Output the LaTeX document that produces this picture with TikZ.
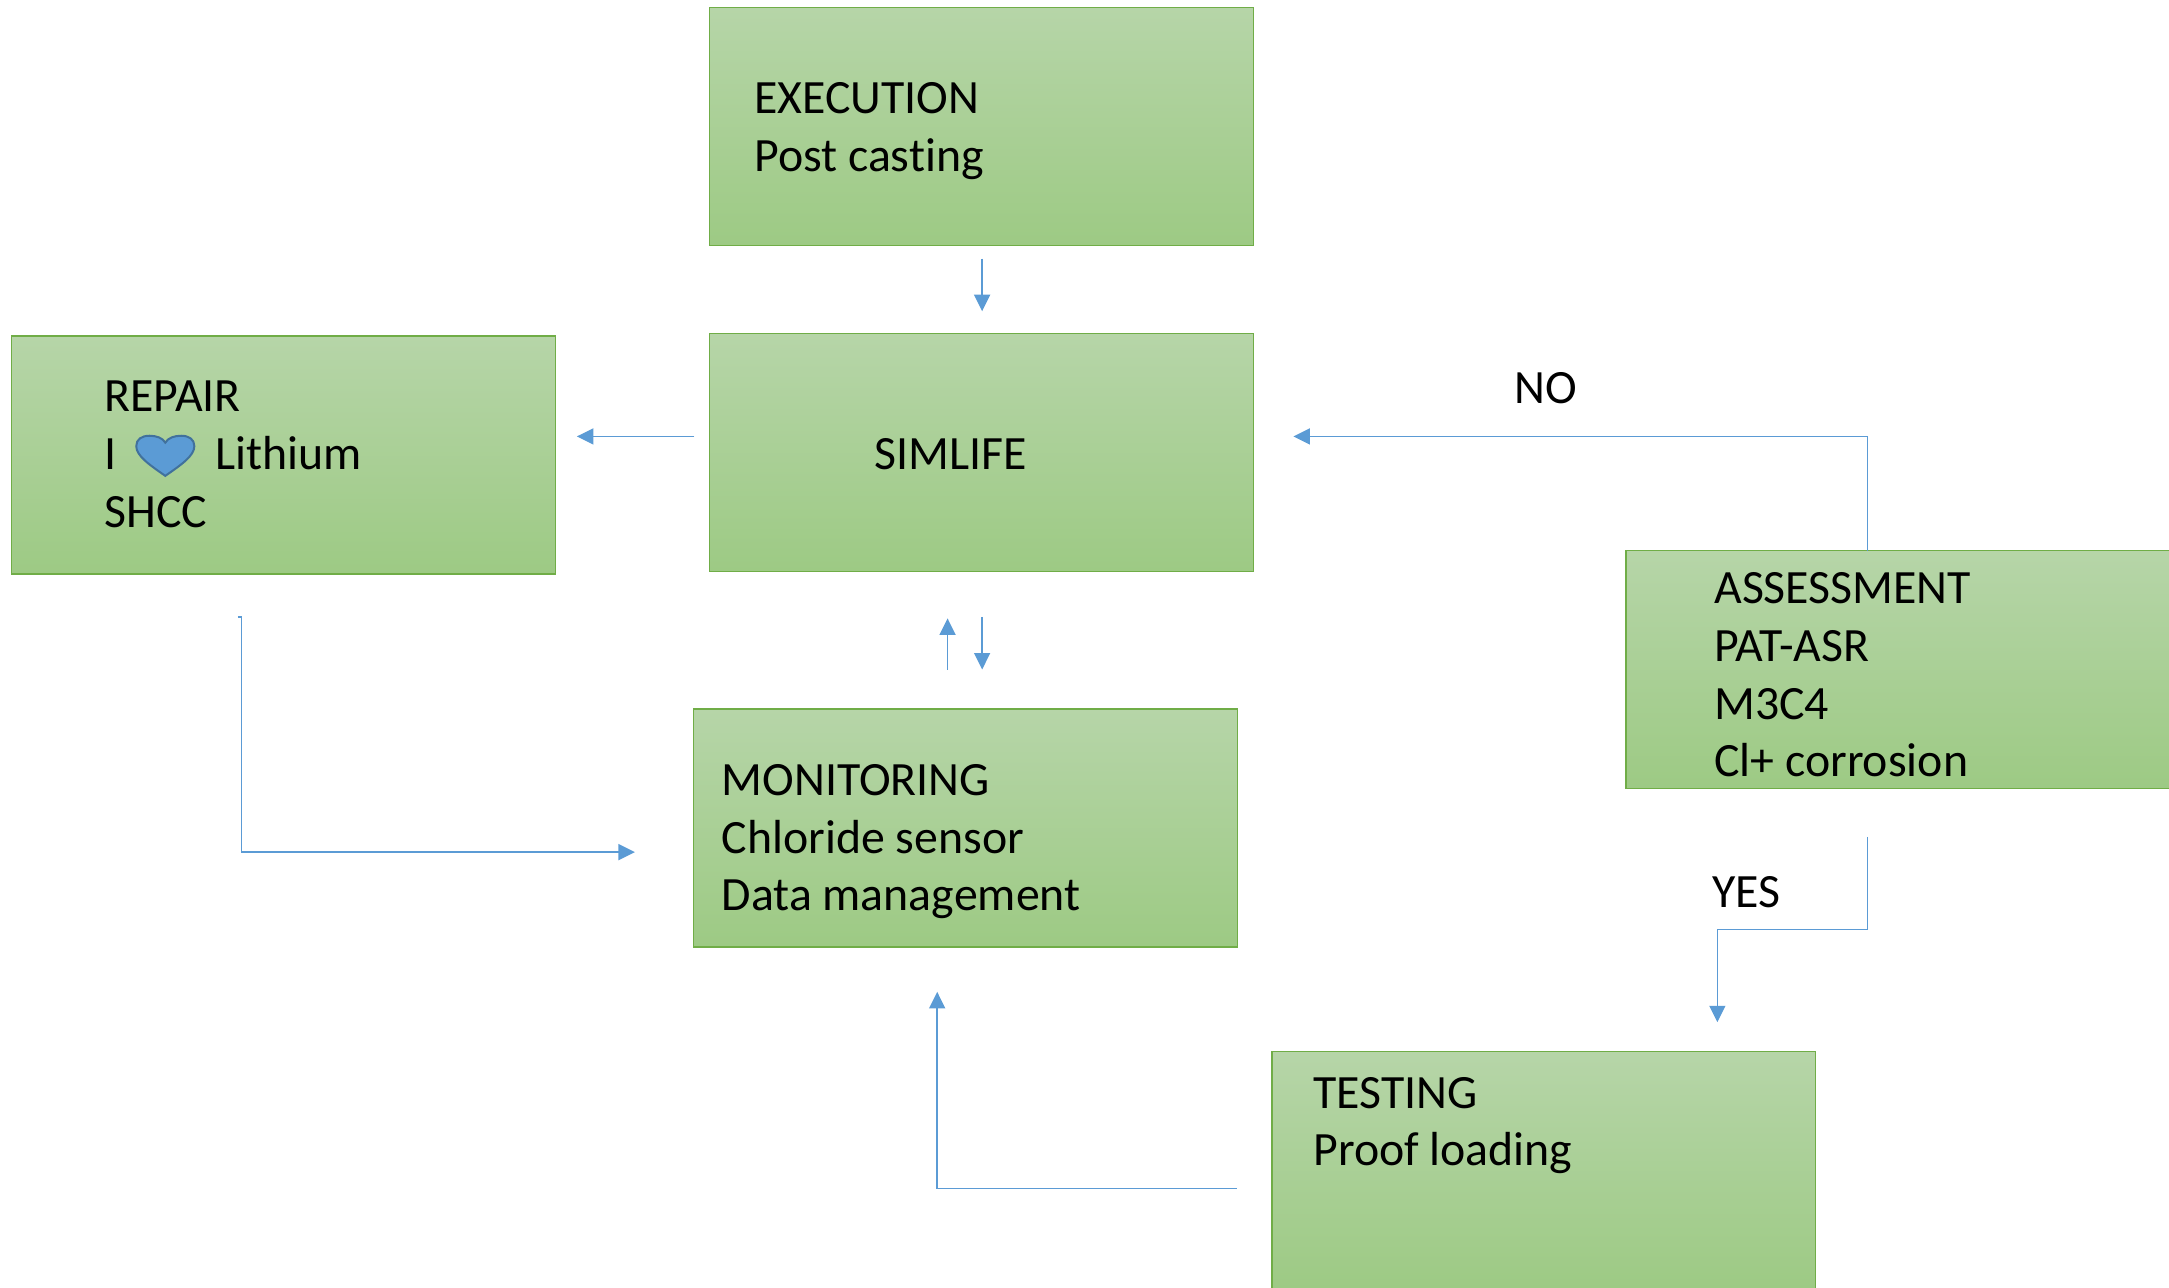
\documentclass[tikz,border=0pt]{standalone}
\usepackage{fontspec}
\setmainfont[Ligatures=NoCommon]{Carlito}
\usetikzlibrary{arrows.meta}
\definecolor{boxtop}{HTML}{B6D5A8}
\definecolor{boxbot}{HTML}{9DCA84}
\definecolor{boxline}{HTML}{70AD47}
\definecolor{conn}{HTML}{5B9BD5}
\definecolor{heartline}{HTML}{41719C}
\tikzset{
  x=1.38329pt,y=-1.38329pt,
  stagebox/.style={draw=boxline,line width=1.4pt,top color=boxtop,bottom color=boxbot,
    anchor=north west,inner sep=0pt,outer sep=0pt,
    minimum width=543.6pt,minimum height=237.9pt},
  label text/.style={anchor=base west,inner sep=0pt,outer sep=0pt,text=black,
    font=\fontsize{47.8pt}{58pt}\selectfont},
  flow/.style={draw=conn,line width=1.5pt,-{Triangle[length=16.5pt,width=16pt]}},
}
\begin{document}
\begin{tikzpicture}
\useasboundingbox (0,0) rectangle (1568,930.4);
\clip (0,0) rectangle (1568,930.4);
% boxes
\node[stagebox] (execution) at (513,5.5) {};
\node[stagebox] (simlife) at (513,241) {};
\node[stagebox] (repair) at (8.5,243) {};
\node[stagebox] (monitoring) at (501.5,512.5) {};
\node[stagebox] (assessment) at (1175.5,398) {};
\node[stagebox] (testing) at (919.5,760) {};
% texts
\node[label text] (t1) at (545.3,82) {EXECUTION};
\node[label text] (t2) at (545.3,124.3) {Post casting};
\node[label text] (t3) at (75.7,297.3) {REPAIR};
\node[label text] (t4) at (75.7,339.3) {I};
\node[label text] (t5) at (156,339.3) {Lithium};
\node[label text] (t6) at (75.7,381) {SHCC};
\node[label text] (t7) at (632,339.3) {SIMLIFE};
\node[label text] (t8) at (521.8,575) {MONITORING};
\node[label text] (t9) at (521.8,617) {Chloride sensor};
\node[label text] (t10) at (521.8,658) {Data management};
\node[label text] (t11) at (1239.3,436) {ASSESSMENT};
\node[label text] (t12) at (1239.3,478) {PAT-ASR};
\node[label text] (t13) at (1239.3,520) {M3C4};
\node[label text] (t14) at (1239.3,561) {Cl+ corrosion};
\node[label text] (t15) at (949.5,801) {TESTING};
\node[label text] (t16) at (949.5,842.3) {Proof loading};
\node[label text] (t17) at (1095,291.7) {NO};
\node[label text] (t18) at (1238,656) {YES};
% heart
\draw[fill=conn,draw=heartline,line width=2pt]
  (119.5,344) .. controls (108,336) and (98.5,329.5) .. (98.5,322.5)
  .. controls (98.5,317.5) and (102.5,315) .. (108,315)
  .. controls (113,315) and (117.5,316.5) .. (119.5,320)
  .. controls (121.5,316.5) and (126,315) .. (131,315)
  .. controls (136.5,315) and (140.5,317.5) .. (140.5,322.5)
  .. controls (140.5,329.5) and (131,336) .. (119.5,344) -- cycle;
% connector ends
\coordinate (a1) at (710,187); \coordinate (a2) at (710,225);
\coordinate (b1) at (502,315.5); \coordinate (b2) at (417,315.5);
\coordinate (c1) at (1350,398); \coordinate (c2) at (1350,315.5); \coordinate (c3) at (935,315.5);
\coordinate (d0) at (172,446); \coordinate (d1) at (174.5,446); \coordinate (d2) at (174.5,616); \coordinate (d3) at (459,616);
\coordinate (e1) at (685,484); \coordinate (e2) at (685,447);
\coordinate (f1) at (710,446); \coordinate (f2) at (710,484);
\coordinate (g1) at (1350,605); \coordinate (g2) at (1350,672); \coordinate (g3) at (1241.5,672); \coordinate (g4) at (1241.5,739);
\coordinate (h1) at (894,859); \coordinate (h2) at (677.5,859); \coordinate (h3) at (677.5,717);
% connectors
\draw[flow] (a1) -- (a2);
\draw[flow] (b1) -- (b2);
\draw[flow] (c1) -- (c2) -- (c3);
\draw[flow] (d0) -- (d1) -- (d2) -- (d3);
\draw[flow] (e1) -- (e2);
\draw[flow] (f1) -- (f2);
\draw[flow] (g1) -- (g2) -- (g3) -- (g4);
\draw[flow] (h1) -- (h2) -- (h3);
\end{tikzpicture}
\end{document}
